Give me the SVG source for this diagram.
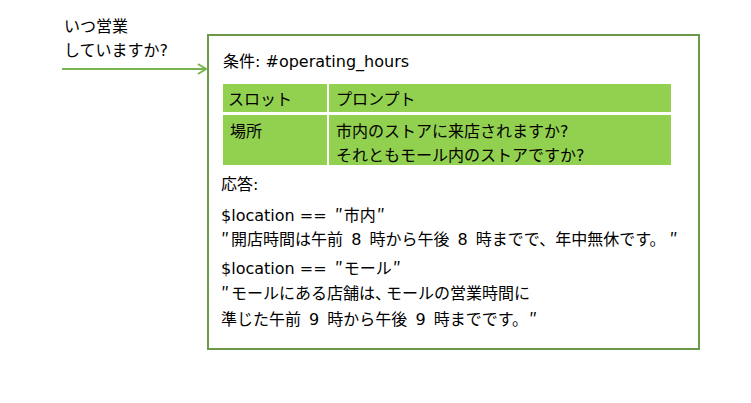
<svg xmlns="http://www.w3.org/2000/svg" width="751" height="403" viewBox="0 0 751 403">
<style>
text{font-family:"DejaVu Sans","Noto Sans CJK JP",sans-serif;font-size:16px;fill:#000}
.q{font-family:"Noto Sans CJK JP",sans-serif;font-size:17px}
.ws{word-spacing:3px}
.cell{fill:#92d050}
</style>
<defs>
<marker id="ah" markerWidth="12" markerHeight="12" refX="10" refY="6" orient="auto" markerUnits="userSpaceOnUse">
<path d="M2,1 L10,6 L2,11" fill="none" stroke="#77b550" stroke-width="2"/>
</marker>
</defs>
<rect width="751" height="403" fill="#fff"/>
<g id="question">
<text x="64" y="32">いつ営業</text>
<text x="64" y="56">していますか?</text>
</g>
<g id="connectors">
<line x1="62" y1="69" x2="206" y2="69" stroke="#77b550" stroke-width="2" marker-end="url(#ah)"/>
</g>
<g id="node">
<rect x="208" y="35" width="491" height="314" fill="#fff" stroke="#6a9a4a" stroke-width="2"/>
<text x="223" y="67">条件: #operating_hours</text>
<rect class="cell" x="223" y="84" width="104" height="28"/>
<rect class="cell" x="329" y="84" width="342" height="28"/>
<rect class="cell" x="223" y="115" width="104" height="50"/>
<rect class="cell" x="329" y="115" width="342" height="50"/>
<text x="228" y="105">スロット</text>
<text x="336" y="105">プロンプト</text>
<text x="230" y="137">場所</text>
<text x="336" y="137">市内のストアに来店されますか?</text>
<text x="336" y="161">それともモール内のストアですか?</text>
<text x="221" y="190">応答:</text>
<text x="221" y="221">$location == <tspan class="q" dx="3">″</tspan><tspan dx="1">市内</tspan><tspan class="q" dx="1">″</tspan></text>
<text x="221" y="245" class="ws"><tspan class="q">″</tspan><tspan dx="2">開店時間は午前 8 時から午後 8 時までで、年中無休です。</tspan><tspan class="q" dx="4">″</tspan></text>
<text x="221" y="274">$location == <tspan class="q" dx="3">″</tspan><tspan dx="1">モール</tspan><tspan class="q" dx="1">″</tspan></text>
<text x="221" y="299"><tspan class="q">″</tspan><tspan dx="2">モールにある店舗は、</tspan><tspan dx="-5">モールの営業時間に</tspan></text>
<text x="221" y="325" class="ws">準じた午前 9 時から午後 9 時までです。<tspan class="q" dx="1">″</tspan></text>
</g>
</svg>
